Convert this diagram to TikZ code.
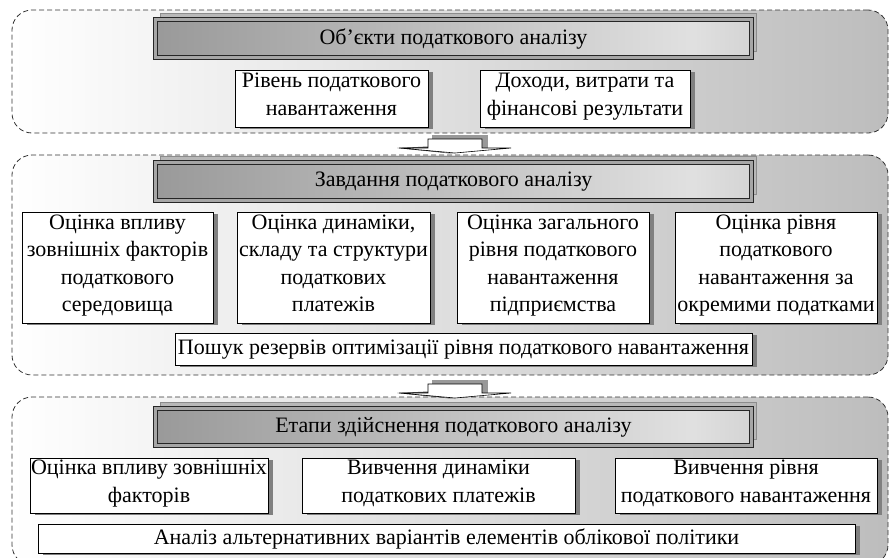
\documentclass[tikz,border=0pt]{standalone}
\usepackage{fontspec}
\setmainfont{Liberation Serif}
\usetikzlibrary{shadows}
\pgfdeclarehorizontalshading{titleshade}{100bp}{color(0bp)=(black!52); color(15bp)=(black!46); color(70bp)=(black!12); color(100bp)=(black!42)}
\begin{document}
\begin{tikzpicture}[x=1pt,y=-1pt,
  every node/.style={font=\fontsize{22}{27.5}\selectfont, align=center, inner sep=0pt},
  section/.style={draw=black!80, line width=0.8pt, dash pattern=on 5pt off 3pt, rounded corners=20pt, left color=white, right color=black!26},
  titlebox/.style={shading=titleshade, draw=black!85, double=black!35, double distance=2.4pt, line width=1.2pt,
     general shadow={fill=black!28, draw=black!45, shadow xshift=5pt, shadow yshift=6pt}},
  itembox/.style={draw=black, line width=0.8pt, fill=white,
     execute at begin node={\strut}, execute at end node={\strut},
     general shadow={fill=black!50, shadow xshift=5pt, shadow yshift=-2pt}},
  flatarrow/.pic={
    \fill[black!40] (-23,-4) rectangle (33,9);
    \fill[black!70] (-58,9) -- (-27,7.5) -- (-27,11) -- (0,15) -- cycle;
    \draw[fill=white, line width=0.6pt] (-27,0) -- (27,0) -- (27,9) -- (56,9) -- (0,14) -- (-56,9) -- (-27,9) -- cycle;
  }]
\useasboundingbox (0,0) rectangle (890,557);

% sections
\node[section, minimum width=876pt, minimum height=123pt] (s1) at (450,71.5) {};
\node[section, minimum width=876pt, minimum height=220pt] (s2) at (450,265) {};
\node[section, minimum width=876pt, minimum height=168pt] (s3) at (450,481) {};

% titles
\node[titlebox, minimum width=596pt, minimum height=38pt] (t1) at (453.5,38.5) {Об’єкти податкового аналізу};
\node[titlebox, minimum width=596pt, minimum height=38pt] (t2) at (453.5,181.5) {Завдання податкового аналізу};
\node[titlebox, minimum width=596pt, minimum height=37pt] (t3) at (453.5,427) {Етапи здійснення податкового аналізу};

% section 1
\node[itembox, minimum width=193pt, minimum height=57pt] (a1) at (331.5,98.5) {Рівень податкового\\навантаження};
\node[itembox, minimum width=210pt, minimum height=57pt] (a2) at (585,98.5) {Доходи, витрати та\\фінансові результати};

% section 2
\node[itembox, minimum width=191pt, minimum height=111pt] (b1) at (117.5,267.5) {Оцінка впливу\\зовнішніх факторів\\податкового\\середовища};
\node[itembox, minimum width=193pt, minimum height=111pt] (b2) at (333.5,267.5) {Оцінка динаміки,\\складу та структури\\податкових\\платежів};
\node[itembox, minimum width=192pt, minimum height=111pt] (b3) at (553,267.5) {Оцінка загального\\рівня податкового\\навантаження\\підприємства};
\node[itembox, minimum width=202pt, minimum height=111pt] (b4) at (776,267.5) {Оцінка рівня\\податкового\\навантаження за\\окремими податками};
\node[itembox, minimum width=577pt, minimum height=32pt] (b5) at (463.5,349) {Пошук резервів оптимізації рівня податкового навантаження};

% section 3
\node[itembox, minimum width=238pt, minimum height=55pt] (c1) at (149,485.5) {Оцінка впливу зовнішніх\\факторів};
\node[itembox, minimum width=273pt, minimum height=55pt] (c2) at (438.5,485.5) {Вивчення динаміки\\податкових платежів};
\node[itembox, minimum width=262pt, minimum height=55pt] (c3) at (746,485.5) {Вивчення рівня\\податкового навантаження};
\node[itembox, minimum width=817pt, minimum height=29pt] (c4) at (446.5,538.5) {Аналіз альтернативних варіантів елементів облікової політики};

% arrows between sections
\pic at (455,139) {flatarrow};
\pic at (455,384) {flatarrow};
\end{tikzpicture}
\end{document}
